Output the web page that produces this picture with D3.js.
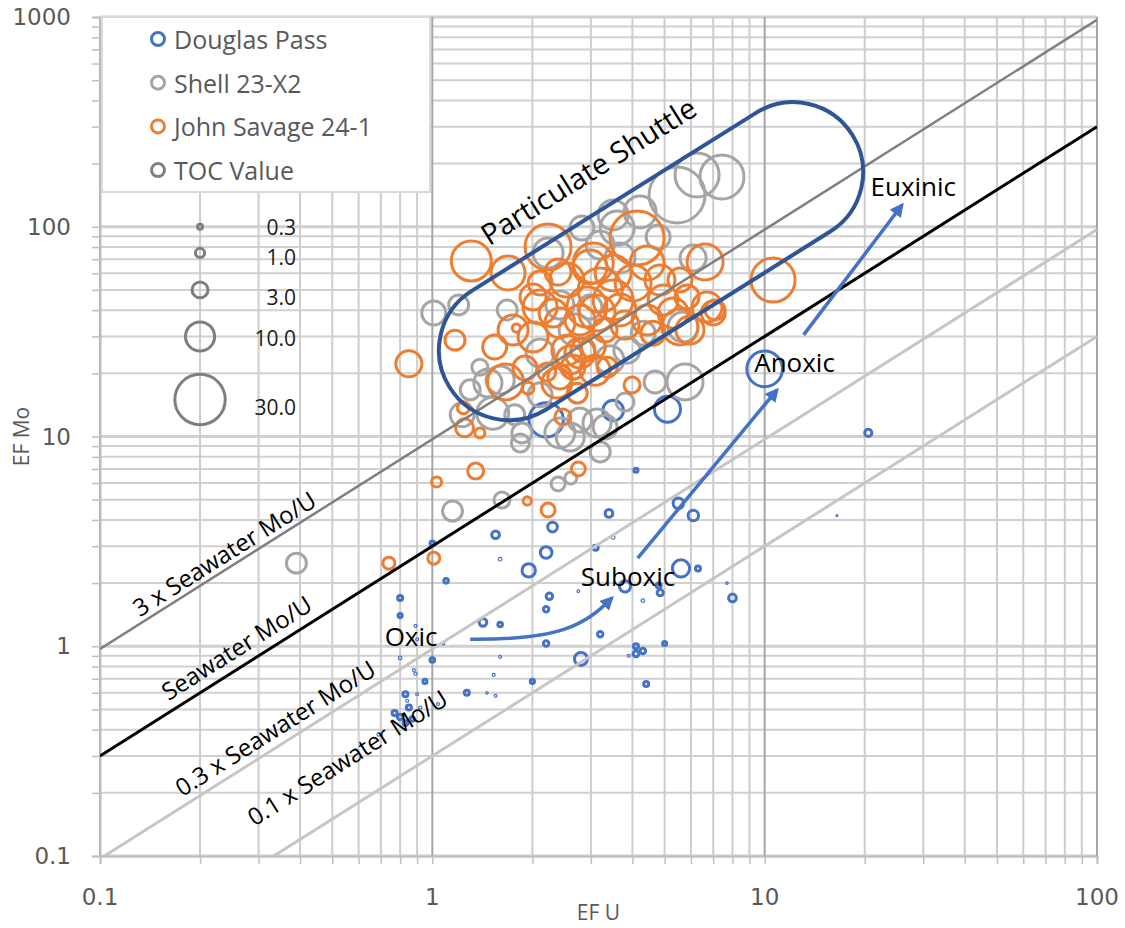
<!DOCTYPE html>
<html>
<head>
<meta charset="utf-8">
<script src="https://cdn.jsdelivr.net/npm/d3@7"></script>
<style>
  body { margin: 0; background: #fff; }
  text { font-family: "Open Sans", sans-serif; }
</style>
</head>
<body>
<svg id="chart" width="1125" height="928"></svg>
<script>
// ---- data: [EF U, EF Mo, TOC] ----
var douglasPass = [
  [4.1, 6.9, 0.2], [3.4, 4.3, 0.7], [2.3, 3.7, 1.1], [1.55, 3.4, 0.7], [3.5, 3.3, 0.15],
  [3.1, 2.95, 0.3], [2.2, 2.8, 1.6], [1.95, 2.3, 2.1], [1.6, 2.6, 0.15], [1.1, 2.05, 0.25],
  [1.0, 3.1, 0.25], [0.8, 1.7, 0.3], [0.8, 1.4, 0.2], [0.89, 1.25, 0.1], [0.9, 1.08, 0.1],
  [1.08, 1.03, 0.08], [0.8, 0.88, 0.15], [1.0, 0.86, 0.25], [0.88, 0.77, 0.1], [0.89, 0.74, 0.12],
  [0.95, 0.68, 0.2], [0.83, 0.59, 0.3], [0.84, 0.55, 0.1], [0.9, 0.59, 0.1], [0.85, 0.51, 0.3],
  [0.92, 0.51, 0.12], [1.04, 0.53, 0.1], [0.77, 0.48, 0.3], [0.8, 0.46, 0.35], [0.87, 0.45, 0.25],
  [0.83, 0.43, 0.25], [0.69, 0.38, 0.15], [1.27, 0.6, 0.3], [1.46, 0.6, 0.08], [1.55, 0.58, 0.1],
  [1.53, 0.73, 0.1], [1.6, 0.89, 0.1], [2.0, 0.68, 0.2], [1.42, 1.3, 0.7], [1.6, 1.27, 0.25],
  [2.2, 1.03, 0.35], [2.2, 1.5, 0.35], [2.25, 1.73, 0.5], [2.75, 1.83, 0.08], [3.2, 1.14, 0.35],
  [2.8, 0.87, 2.0], [3.8, 1.93, 1.5], [4.3, 1.65, 0.15], [4.8, 1.95, 0.3], [4.85, 1.8, 0.45],
  [5.5, 4.8, 1.3], [6.1, 4.2, 1.3], [5.6, 2.35, 3.5], [6.3, 2.35, 0.3], [7.7, 2.0, 0.08],
  [8.0, 1.7, 0.7], [5.0, 1.03, 0.2], [4.1, 1.0, 0.3], [4.3, 0.95, 0.35], [4.1, 0.92, 0.4],
  [3.9, 0.9, 0.1], [4.4, 0.66, 0.3], [20.5, 10.4, 0.6], [16.5, 4.2, 0.05], [5.1, 13.5, 8.0],
  [3.5, 13.3, 5.0], [10.0, 21.0, 15.0], [2.2, 12.0, 14.0]
];

var shell23X2 = [
  [5.45, 141.7, 37], [6.26, 176.5, 22.9], [7.44, 172.7, 22.9], [4.22, 117.6, 12.1], [3.60, 98.6, 13.7],
  [3.20, 81.8, 9.3], [4.78, 89.4, 6.8], [6.09, 71.0, 8.0], [3.67, 71.0, 10.6], [1.01, 38.8, 6.8],
  [1.20, 42.4, 4.7], [1.39, 21.4, 3.0], [1.60, 18.6, 9.3], [1.47, 18.0, 9.3], [1.23, 12.7, 6.8],
  [1.52, 12.9, 12.1], [1.86, 10.4, 4.7], [1.84, 9.31, 3.8], [2.42, 10.4, 10.6], [2.60, 9.95, 9.3],
  [3.13, 11.6, 9.3], [3.20, 8.44, 4.7], [2.98, 41.4, 6.8], [1.68, 40.1, 4.7], [2.11, 25.0, 9.3],
  [4.68, 18.2, 5.7], [5.76, 18.2, 15.3], [3.80, 14.6, 3.8], [3.31, 11.1, 6.8], [4.31, 31.1, 6.8],
  [5.68, 33.3, 10.6], [0.39, 2.49, 4.7], [1.15, 4.41, 4.7], [1.62, 4.98, 3.0], [2.39, 5.94, 2.3],
  [2.61, 6.34, 1.7], [2.23, 75.0, 10.6], [2.82, 98.6, 6.8], [2.42, 42.4, 9.3], [2.69, 32.2, 12.1],
  [3.42, 23.2, 9.3], [2.11, 15.8, 6.8], [3.85, 25.8, 8.0], [1.30, 16.7, 4.7], [1.77, 12.7, 4.7],
  [2.78, 12.0, 6.8], [3.50, 113.8, 10.6]
];

var johnSavage = [
  [0.85, 22.2, 8.0], [0.74, 2.49, 1.7], [1.01, 2.63, 1.7], [1.03, 6.07, 1.2], [1.35, 6.85, 3.0],
  [1.93, 4.93, 0.8], [2.23, 4.46, 2.3], [2.75, 7.0, 2.3], [3.99, 17.6, 3.0], [1.17, 28.8, 4.7],
  [1.24, 13.7, 1.7], [1.25, 11.0, 3.8], [1.39, 10.4, 1.2], [1.54, 26.7, 6.8], [1.66, 18.2, 15.3],
  [1.90, 21.2, 6.8], [1.79, 32.9, 0.8], [1.94, 17.0, 1.7], [2.37, 18.0, 10.6], [2.47, 12.4, 3.0],
  [2.73, 16.1, 4.7], [3.09, 20.7, 10.6], [2.60, 23.2, 9.3], [2.84, 25.8, 6.8], [2.21, 20.3, 3.8],
  [1.31, 68.7, 18.9], [1.69, 60.2, 13.7], [2.23, 80.1, 25.0], [2.39, 60.8, 8.0], [2.11, 53.9, 6.8],
  [2.01, 46.3, 8.0], [2.98, 64.3, 13.7], [4.13, 88.4, 34.5], [6.62, 67.9, 15.3], [10.6, 55.7, 22.9],
  [1.75, 32.2, 10.6], [2.11, 41.4, 13.7], [2.54, 55.7, 13.7], [3.05, 67.2, 18.9], [3.50, 60.2, 15.3],
  [3.20, 49.9, 22.9], [2.92, 41.4, 18.9], [3.50, 44.7, 18.9], [4.02, 53.9, 15.3], [4.43, 67.2, 13.7],
  [4.84, 55.7, 10.6], [4.95, 44.7, 10.6], [5.30, 38.8, 10.6], [5.56, 55.7, 6.8], [5.84, 46.3, 6.8],
  [6.71, 41.4, 10.6], [7.00, 38.8, 6.8], [4.43, 35.9, 10.6], [4.61, 31.1, 6.8], [5.56, 33.3, 15.3],
  [2.01, 29.8, 10.6], [2.31, 38.8, 9.3], [2.42, 34.8, 10.6], [2.78, 35.9, 10.6], [3.13, 38.8, 15.3],
  [2.54, 25.8, 10.6], [2.78, 25.0, 10.6], [3.05, 26.7, 6.8], [2.65, 21.4, 6.8], [2.42, 19.2, 6.8],
  [3.36, 21.4, 4.7], [3.67, 40.1, 12.1], [3.80, 34.0, 9.3], [3.31, 32.2, 6.8], [5.96, 32.2, 9.3],
  [7.09, 40.1, 4.7]
];

// TOC size key (plotted as its own bubble series)
var tocValue = [[0.2, 100, 0.3], [0.2, 75, 1], [0.2, 50, 3], [0.2, 30, 10], [0.2, 15, 30]];
var tocKeyLabels = ["0.3", "1.0", "3.0", "10.0", "30.0"];
var tocKeyLabelY = [99.5, 71.5, 46.3, 29.5, 13.8];

var seriesNames = ["Douglas Pass", "Shell 23-X2", "John Savage 24-1", "TOC Value"];
var seriesColors = ["#4472c4", "#a5a5a5", "#ed7d31", "#7f7f7f"];

// Mo/U reference ratios
var ratioValues = [9.7, 3, 0.97, 0.3];
var ratioLabels = ["3 x Seawater Mo/U", "Seawater Mo/U", "0.3 x Seawater Mo/U", "0.1 x Seawater Mo/U"];
var ratioColors = ["#7f7f7f", "#000000", "#c6c6c6", "#c6c6c6"];
var ratioLabelAt = [[0.236, 2.78], [0.257, 0.99], [0.336, 0.41], [0.554, 0.296]];

var xTickLabels = ["0.1", "1", "10", "100"];
var yTickLabels = ["0.1", "1", "10", "100", "1000"];

// ---- chart ----
var margin = {top: 17, right: 28, bottom: 72, left: 100},
    W = 1125, H = 928;

var x = d3.scaleLog().domain([0.1, 100]).range([margin.left, W - margin.right]);
var y = d3.scaleLog().domain([0.1, 1000]).range([H - margin.bottom, margin.top]);

var svg = d3.select("#chart");

function isMajor(v) {
  var l = Math.log10(v);
  return Math.abs(l - Math.round(l)) < 1e-6;
}

// gridlines
var grid = svg.append("g");
grid.selectAll(".hg").data(y.ticks()).enter().append("line")
    .attr("x1", x.range()[0]).attr("x2", x.range()[1])
    .attr("y1", function(d) { return y(d); }).attr("y2", function(d) { return y(d); })
    .attr("stroke", "#d0d0d0")
    .attr("stroke-width", function(d) { return isMajor(d) ? 3 : 2; });
grid.selectAll(".vg").data(x.ticks()).enter().append("line")
    .attr("y1", y.range()[0]).attr("y2", y.range()[1])
    .attr("x1", function(d) { return x(d); }).attr("x2", function(d) { return x(d); })
    .attr("stroke", function(d) { return isMajor(d) ? "#a6a6a6" : "#cdcdcd"; })
    .attr("stroke-width", 2);

// axes
var xAxis = svg.append("g")
    .attr("transform", "translate(0," + y.range()[0] + ")")
    .call(d3.axisBottom(x).tickValues(x.ticks()).tickSize(8).tickFormat(""));
var yAxis = svg.append("g")
    .attr("transform", "translate(" + x.range()[0] + ",0)")
    .call(d3.axisLeft(y).tickValues(y.ticks()).tickSize(8).tickFormat(""));
[xAxis, yAxis].forEach(function(a) {
  a.select(".domain").attr("stroke", "#bfbfbf").attr("stroke-width", 2);
  a.selectAll(".tick line").attr("stroke", "#bfbfbf").attr("stroke-width", 1.5);
});

svg.selectAll(".xl").data(xTickLabels).enter().append("text")
    .attr("x", function(d) { return x(+d); })
    .attr("y", 897)
    .attr("text-anchor", "middle").attr("dominant-baseline", "central")
    .style("font-family", "'DejaVu Sans', sans-serif")
    .style("font-size", "23px").attr("fill", "#595959")
    .text(function(d) { return d; });
svg.selectAll(".yl").data(yTickLabels).enter().append("text")
    .attr("x", 71)
    .attr("y", function(d) { return y(+d); })
    .attr("text-anchor", "end").attr("dominant-baseline", "central")
    .style("font-family", "'DejaVu Sans', sans-serif")
    .style("font-size", "23px").attr("fill", "#595959")
    .text(function(d) { return d; });

svg.append("text")
    .attr("x", (x.range()[0] + x.range()[1]) / 2).attr("y", 912)
    .attr("text-anchor", "middle").attr("dominant-baseline", "central")
    .style("font-size", "21px").attr("fill", "#595959")
    .text("EF U");
svg.append("text")
    .attr("transform", "translate(21," + ((y.range()[0] + y.range()[1]) / 2) + ") rotate(-90)")
    .attr("text-anchor", "middle").attr("dominant-baseline", "central")
    .style("font-size", "21px").attr("fill", "#595959")
    .text("EF Mo");

// legend box
var legend = svg.append("g");
legend.append("rect")
    .attr("x", 102).attr("y", 17).attr("width", 328).attr("height", 175)
    .attr("fill", "#fff").attr("stroke", "#d9d9d9").attr("stroke-width", 2);
var legRows = legend.selectAll(".lr").data(seriesNames).enter().append("g")
    .attr("transform", function(d, i) { return "translate(158," + (39 + i * 43.7) + ")"; });
legRows.append("circle").attr("r", 6.5).attr("fill", "none")
    .attr("stroke", function(d, i) { return seriesColors[i]; }).attr("stroke-width", 3);
legRows.append("text").attr("x", 16).attr("dominant-baseline", "central")
    .style("font-size", "25px").attr("fill", "#595959")
    .text(function(d) { return d; });

// bubbles (area ~ TOC)
var rScale = d3.scaleSqrt().domain([0, 30]).range([0, 4.6 * Math.sqrt(30)]);
function strokeW(d) { return rScale(d[2]) < 2 ? 1.2 : 3; }

var plot = svg.append("g");
[douglasPass, shell23X2, johnSavage, tocValue].forEach(function(series, i) {
  plot.append("g").selectAll("circle").data(series).enter().append("circle")
      .attr("cx", function(d) { return x(d[0]); })
      .attr("cy", function(d) { return y(d[1]); })
      .attr("r", function(d) { return rScale(d[2]); })
      .attr("fill", "none")
      .attr("stroke", seriesColors[i])
      .attr("stroke-width", strokeW);
});

svg.selectAll(".tk").data(tocKeyLabels).enter().append("text")
    .attr("x", 296)
    .attr("y", function(d, i) { return y(tocKeyLabelY[i]); })
    .attr("text-anchor", "end").attr("dominant-baseline", "central")
    .style("font-size", "21px").attr("fill", "#1a1a1a")
    .text(function(d) { return d; });

// Mo/U reference lines
svg.append("clipPath").attr("id", "plotclip").append("rect")
    .attr("x", x.range()[0]).attr("y", y.range()[1])
    .attr("width", x.range()[1] - x.range()[0]).attr("height", y.range()[0] - y.range()[1]);

var line = d3.line().x(function(d) { return x(d[0]); }).y(function(d) { return y(d[1]); });
var refs = svg.append("g").attr("clip-path", "url(#plotclip)");
ratioValues.forEach(function(k, i) {
  refs.append("path")
      .attr("d", line([[0.1, 0.1 * k], [100, 100 * k]]))
      .attr("fill", "none")
      .attr("stroke", ratioColors[i])
      .attr("stroke-width", i === 0 ? 2.5 : 3);
});

var angle = Math.atan2(y(10) - y(1), x(10) - x(1)) * 180 / Math.PI;

svg.selectAll(".rl").data(ratioLabels).enter().append("text")
    .attr("transform", function(d, i) {
      return "translate(" + x(ratioLabelAt[i][0]) + "," + y(ratioLabelAt[i][1]) + ") rotate(" + angle + ")";
    })
    .attr("text-anchor", "middle").attr("dominant-baseline", "central")
    .style("font-size", "24px").attr("fill", "#000")
    .text(function(d) { return d; });

// particulate shuttle outline
var c1 = [x(1.70), y(25.8)], c2 = [x(12.18), y(182)], rad = 70;
var len = Math.hypot(c2[0] - c1[0], c2[1] - c1[1]);
var ux = (c2[0] - c1[0]) / len, uy = (c2[1] - c1[1]) / len;
var nx = -uy, ny = ux;
function pt(c, s) { return (c[0] + s * rad * nx) + "," + (c[1] + s * rad * ny); }
svg.append("path")
    .attr("d", "M" + pt(c1, -1) + "L" + pt(c2, -1) +
               "A" + rad + "," + rad + " 0 0 1 " + pt(c2, 1) +
               "L" + pt(c1, 1) +
               "A" + rad + "," + rad + " 0 0 1 " + pt(c1, -1) + "Z")
    .attr("fill", "none").attr("stroke", "#2f5597").attr("stroke-width", 4);

svg.append("text")
    .attr("transform", "translate(" + x(2.94) + "," + y(186) + ") rotate(" + angle + ")")
    .attr("text-anchor", "middle").attr("dominant-baseline", "central")
    .style("font-size", "29px").attr("fill", "#000")
    .text("Particulate Shuttle");

// redox arrows
svg.append("defs").append("marker")
    .attr("id", "head").attr("viewBox", "0 0 10 10")
    .attr("refX", 8).attr("refY", 5)
    .attr("markerWidth", 4).attr("markerHeight", 4)
    .attr("orient", "auto")
  .append("path").attr("d", "M0,0L10,5L0,10z").attr("fill", "#4472c4");

var arrows = svg.append("g").attr("fill", "none").attr("stroke", "#4472c4")
    .attr("stroke-width", 3.5).attr("marker-end", "url(#head)");
arrows.append("path")
    .attr("d", "M" + x(1.30) + "," + y(1.08) +
               "C" + x(2.42) + "," + y(1.07) + " " + x(2.88) + "," + y(1.26) + " " + x(3.47) + "," + y(1.70));
arrows.append("path").attr("d", line([[4.15, 2.63], [10.9, 16.7]]));
arrows.append("path").attr("d", line([[13.1, 30.5], [25.9, 127]]));

var zones = [["Oxic", 0.863, 1.12], ["Suboxic", 3.88, 2.16], ["Anoxic", 12.3, 22.6], ["Euxinic", 28.0, 156]];
svg.selectAll(".zn").data(zones).enter().append("text")
    .attr("x", function(d) { return x(d[1]); })
    .attr("y", function(d) { return y(d[2]); })
    .attr("text-anchor", "middle").attr("dominant-baseline", "central")
    .style("font-size", "26px").attr("fill", "#000")
    .text(function(d) { return d[0]; });
</script>
</body>
</html>
